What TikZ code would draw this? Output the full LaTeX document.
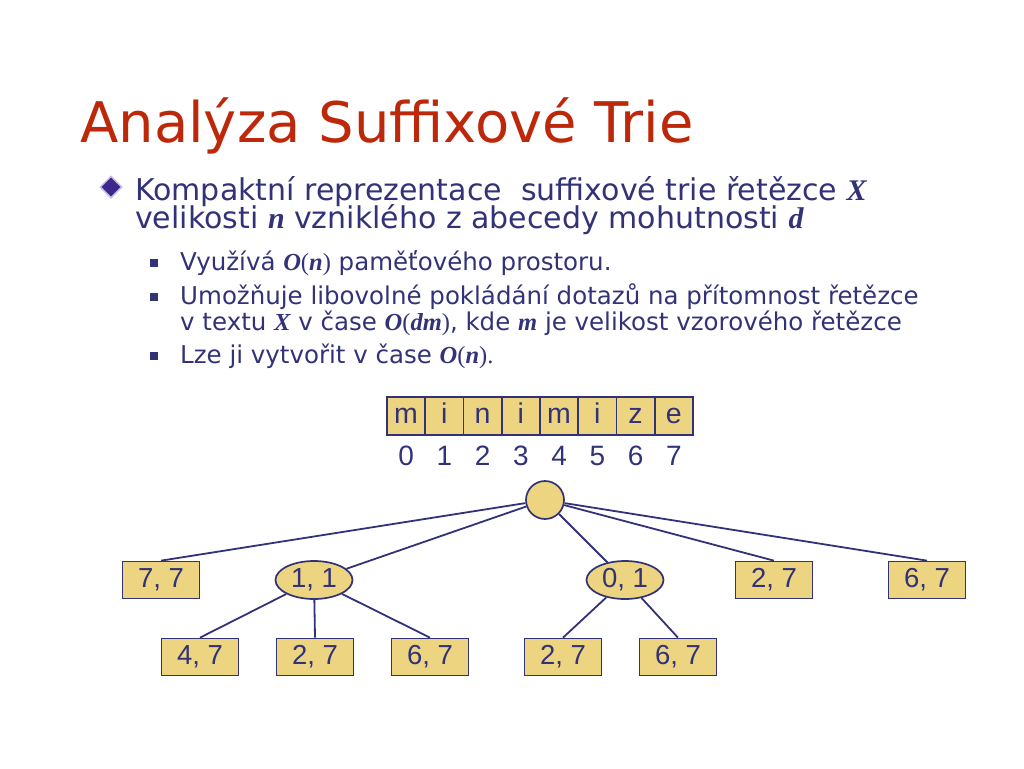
\documentclass[tikz,border=0pt]{standalone}
\usepackage{fontspec}
\setmainfont{Liberation Sans}
\newfontfamily\bodyfont{DejaVu Sans}
\newfontfamily\mathfont{Liberation Serif}
\newfontfamily\diagfont{Liberation Sans}
\usetikzlibrary{shapes.geometric}
\definecolor{navy}{RGB}{50,50,120}
\definecolor{titlered}{RGB}{190,40,10}
\definecolor{sand}{RGB}{236,212,128}
\definecolor{diamondfill}{RGB}{60,40,140}
\newcommand{\mv}[1]{{\mathfont\bfseries\itshape #1}}
\newcommand{\Oof}[1]{\mv{O}{\mathfont(}\mv{#1}{\mathfont)}}
\tikzset{
  txt/.style={anchor=base west, inner sep=0pt, text=navy},
  cell/.style={draw=navy, line width=1.7pt, fill=sand, minimum width=38.25pt, minimum height=38pt, inner sep=0pt, text height=20pt, text depth=6pt, font=\diagfont\fontsize{28.5}{28.5}\selectfont, text=navy},
  leaf/.style={draw=navy, line width=1.7pt, fill=sand, minimum width=77pt, minimum height=37pt, inner sep=0pt, font=\diagfont\fontsize{27.5}{27.5}\selectfont, text=navy},
  inner/.style={ellipse, draw=navy, line width=1.7pt, fill=sand, minimum width=77pt, minimum height=38pt, inner sep=0pt, font=\diagfont\fontsize{27.5}{27.5}\selectfont, text=navy},
  edge/.style={draw=navy, line width=1.8pt},
  sq/.style={fill=navy, minimum size=8pt, inner sep=0pt},
}
\begin{document}
\begin{tikzpicture}[x=1pt,y=-1pt]
\useasboundingbox (0,0) rectangle (1024,768);
% title
\node[txt, text=titlered, font=\bodyfont\fontsize{56}{56}\selectfont] (title) at (80,142) {Analýza Suffixové Trie};
% main bullet
\node[diamond, fill=diamondfill, draw=diamondfill!30, line width=1.5pt, minimum width=22pt, minimum height=22pt, inner sep=0pt] (dia) at (111,187) {};
\node[txt, font=\bodyfont\fontsize{30}{30}\selectfont] (l1) at (135,200) {Kompaktní reprezentace\ \ suffixové trie řetězce \mv{X}};
\node[txt, font=\bodyfont\fontsize{30}{30}\selectfont] (l2) at (135,228) {velikosti \mv{n} vzniklého z abecedy mohutnosti \mv{d}};
% sub bullets
\node[sq] (b1) at (154,263) {};
\node[txt, font=\bodyfont\fontsize{24.5}{24.5}\selectfont] (s1) at (180,270) {Využívá \Oof{n} paměťového prostoru.};
\node[sq] (b2) at (154,297) {};
\node[txt, font=\bodyfont\fontsize{24.5}{24.5}\selectfont] (s2) at (180,304) {Umožňuje libovolné pokládání dotazů na přítomnost řetězce};
\node[txt, font=\bodyfont\fontsize{24.5}{24.5}\selectfont] (s2b) at (180,330) {v textu \mv{X} v čase \Oof{dm}, kde \mv{m} je velikost vzorového řetězce};
\node[sq] (b3) at (154,356) {};
\node[txt, font=\bodyfont\fontsize{24.5}{24.5}\selectfont] (s3) at (180,363) {Lze ji vytvořit v čase \Oof{n}{\mathfont.}};
% array
\foreach \ch [count=\i from 0] in {m,i,n,i,m,i,z,e} {
  \node[cell] (c\i) at ({406.1+38.25*\i},416) {\ch};
  \node[text=navy, font=\diagfont\fontsize{28}{28}\selectfont, inner sep=0pt] (d\i) at ({406.1+38.25*\i},456) {\i};
}
% tree
\node[circle, draw=navy, line width=1.7pt, fill=sand, minimum size=38pt, inner sep=0pt] (root) at (545,500) {};
\node[leaf] (a77) at (161,580) {7, 7};
\node[inner] (a11) at (314,580) {1, 1};
\node[inner] (a01) at (625,580) {0, 1};
\node[leaf] (a27) at (774,580) {2, 7};
\node[leaf] (a67) at (927,580) {6, 7};
\node[leaf] (b47) at (200,657) {4, 7};
\node[leaf] (b27) at (315,657) {2, 7};
\node[leaf] (b67) at (430,657) {6, 7};
\node[leaf] (e27) at (563,657) {2, 7};
\node[leaf] (e67) at (678,657) {6, 7};
\draw[edge] (root) -- (a77.north);
\draw[edge] (root) -- (a11);
\draw[edge] (root) -- (a01);
\draw[edge] (root) -- (a27.north);
\draw[edge] (root) -- (a67.north);
\draw[edge] (a11) -- (b47.north);
\draw[edge] (a11) -- (b27.north);
\draw[edge] (a11) -- (b67.north);
\draw[edge] (a01) -- (e27.north);
\draw[edge] (a01) -- (e67.north);
\end{tikzpicture}
\end{document}
